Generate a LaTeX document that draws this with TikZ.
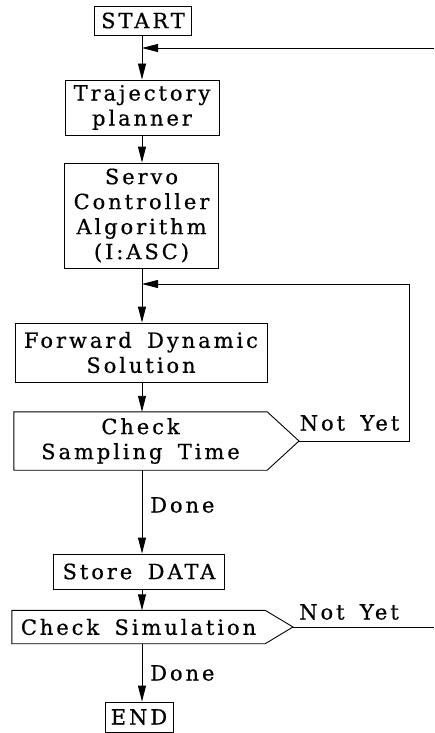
\documentclass[tikz,border=0pt]{standalone}
\usepackage{fontspec}
\setmainfont{DejaVu Serif}[LetterSpace=14,WordSpace=1.6,FakeBold=0.6]
\usetikzlibrary{arrows.meta}
\begin{document}
\begin{tikzpicture}[x=1pt,y=-1pt,
  every node/.style={font=\fontsize{21}{25}\selectfont},
  box/.style={draw,line width=0.9pt,inner sep=0pt,align=center},
  lbl/.style={inner sep=0pt},
  arr/.style={line width=0.9pt,-{Triangle[length=16pt,width=8pt]}},
  ln/.style={line width=0.9pt}]
\useasboundingbox (0,0) rectangle (434,733);
% nodes
\node[box,minimum width=97,minimum height=29] (start) at (143,20.5) {START};
\node[box,minimum width=154,minimum height=55] (traj) at (142,107.5) {Trajectory\\planner};
\node[box,minimum width=154,minimum height=105] (servo) at (141.5,215.5) {Servo\\Controller\\Algorithm\\(I:ASC)};
\node[box,minimum width=252,minimum height=59] (fwd) at (141,352.5) {Forward Dynamic\\Solution};
\node[lbl,minimum width=253,minimum height=58,align=center] (chk1) at (140.5,441) {Check\\Sampling Time};
\coordinate (tip1) at (299,441);
\draw[ln] (chk1.north west) -- (chk1.north east) -- (tip1) -- (chk1.south east) -- (chk1.south west) -- cycle;
\node[box,minimum width=171,minimum height=35] (store) at (139,571.5) {Store DATA};
\node[lbl,minimum width=253,minimum height=33] (chk2) at (138.5,627) {Check Simulation};
\coordinate (tip2) at (293,627);
\draw[ln] (chk2.north west) -- (chk2.north east) -- (tip2) -- (chk2.south east) -- (chk2.south west) -- cycle;
\node[box,minimum width=68,minimum height=30] (end) at (139,717) {END};
% labels
\node[lbl] (ny1) at (349.5,423) {Not Yet};
\node[lbl] (ny2) at (349,612) {Not Yet};
\node[lbl,anchor=west] (done1) at (150,505) {Done};
\node[lbl,anchor=west] (done2) at (150,673) {Done};
% coordinates
\coordinate (fb1) at (434,48);
\coordinate (spine) at (142,0);
\coordinate (loop2) at (409,284);
\coordinate (out2) at (434,627);
% connectors
\draw[arr] (start.south -| spine) -- (traj.north -| spine);
\draw[arr] (fb1) -- (fb1 -| spine);
\draw[arr] (traj.south -| spine) -- (servo.north -| spine);
\draw[arr] (servo.south -| spine) -- (fwd.north -| spine);
\draw[arr] (fwd.south -| spine) -- (chk1.north -| spine);
\draw[arr] (tip1) -- (tip1 -| loop2) -- (loop2) -- (loop2 -| spine);
\draw[arr] (chk1.south -| spine) -- (store.north -| spine);
\draw[arr] (store.south -| spine) -- (chk2.north -| spine);
\draw[ln] (tip2) -- (out2);
\draw[arr] (chk2.south -| spine) -- (end.north -| spine);
\end{tikzpicture}
\end{document}
